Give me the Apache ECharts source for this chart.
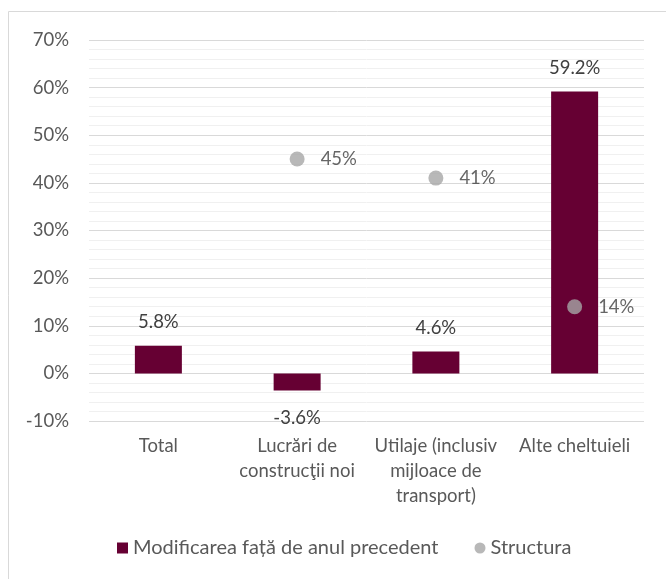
<!DOCTYPE html>
<html>
<head>
<meta charset="utf-8">
<script src="https://cdn.jsdelivr.net/npm/echarts@6/dist/echarts.min.js"></script>
<style>
  html, body { margin: 0; padding: 0; background: #fff; }
  #chart { width: 666px; height: 579px; }
</style>
</head>
<body>
<div id="chart"></div>
<script>
const categories = ['Total', 'Lucrări de\nconstrucţii noi', 'Utilaje (inclusiv\nmijloace de\ntransport)', 'Alte cheltuieli'];
const changeValues = [5.8, -3.6, 4.6, 59.2];
const structureValues = [null, 45, 41, 14];
const seriesNames = ['Modificarea față de anul precedent', 'Structura'];

const FONT = 'Lato';
const chart = echarts.init(document.getElementById('chart'));

chart.setOption({
  animation: false,
  textStyle: { fontFamily: FONT },
  graphic: [{
    type: 'rect',
    shape: { x: 8.5, y: 11.5, width: 700, height: 600 },
    style: { fill: 'none', stroke: '#d9d9d9', lineWidth: 1 },
    silent: true
  }],
  grid: { left: 89, right: 22, top: 40, bottom: 158 },
  legend: {
    bottom: 16,
    left: 112,
    itemGap: 36,
    itemWidth: 11,
    itemHeight: 11,
    itemTextGap: 6,
    textStyle: { fontFamily: FONT, fontSize: 20, color: '#595959' },
    data: [
      { name: seriesNames[0], icon: 'rect' },
      { name: seriesNames[1], icon: 'circle' }
    ]
  },
  xAxis: {
    type: 'category',
    data: categories,
    axisLine: { show: false },
    axisTick: { show: false },
    axisLabel: {
      color: '#595959',
      fontSize: 18.5,
      lineHeight: 25,
      margin: 13,
      interval: 0
    }
  },
  yAxis: {
    type: 'value',
    min: -10,
    max: 70,
    interval: 10,
    axisLine: { show: false },
    axisTick: { show: false },
    axisLabel: {
      color: '#595959',
      fontSize: 18.5,
      margin: 20,
      formatter: '{value}%'
    },
    splitLine: { lineStyle: { color: '#d9d9d9', width: 1 } },
    minorTick: { show: false, splitNumber: 5 },
    minorSplitLine: { show: true, lineStyle: { color: '#f0f0f0', width: 1 } }
  },
  series: [
    {
      name: seriesNames[0],
      type: 'bar',
      barWidth: 47,
      itemStyle: { color: '#660033' },
      data: changeValues.map(v => ({
        value: v,
        label: {
          show: true,
          position: v < 0 ? 'bottom' : 'top',
          distance: v < 0 ? 18 : 14
        }
      })),
      label: {
        color: '#404040',
        fontSize: 18.5,
        formatter: p => p.value.toFixed(1) + '%'
      }
    },
    {
      name: seriesNames[1],
      type: 'scatter',
      symbol: 'circle',
      symbolSize: 15,
      itemStyle: { color: '#a6a6a6' },
      z: 5,
      data: structureValues,
      label: {
        show: true,
        position: 'right',
        distance: 16,
        color: '#404040',
        fontSize: 18.5,
        formatter: p => p.value + '%'
      }
    }
  ]
});
</script>
</body>
</html>
